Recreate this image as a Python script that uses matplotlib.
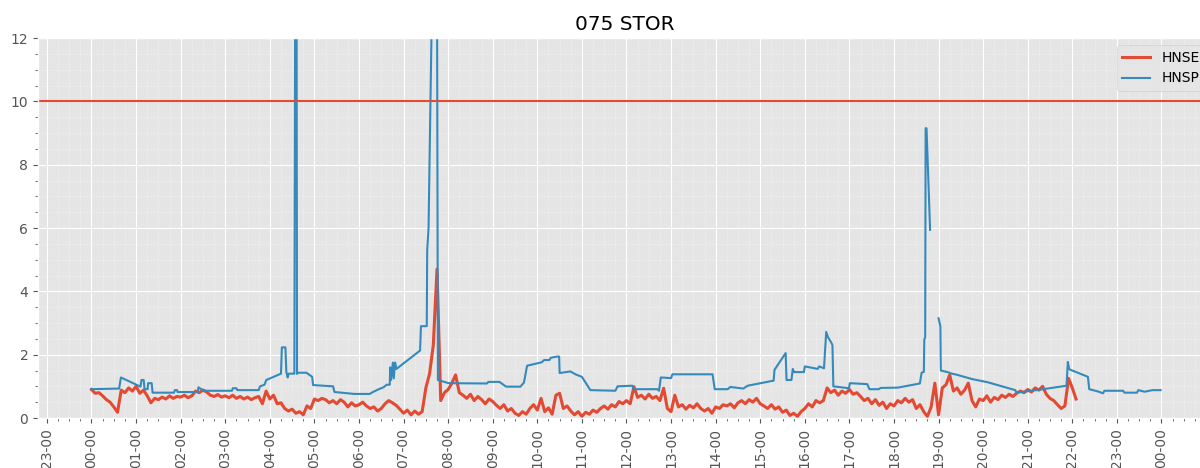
import numpy as np
import pandas as pd
import matplotlib
matplotlib.use("Agg")
import matplotlib.pyplot as plt
import matplotlib.dates as mdates
from matplotlib.ticker import MultipleLocator

# HNSE, one value every 5 minutes from 00:00 (one row per hour)
hnse = [
    0.90, 0.78, 0.80, 0.70, 0.58, 0.50, 0.35, 0.18, 0.88, 0.80, 0.95, 0.85,
    1.00, 0.78, 0.88, 0.70, 0.48, 0.62, 0.58, 0.66, 0.60, 0.70, 0.62, 0.68,
    0.66, 0.72, 0.64, 0.70, 0.85, 0.80, 0.88, 0.82, 0.72, 0.68, 0.74, 0.66,
    0.70, 0.64, 0.72, 0.62, 0.68, 0.60, 0.66, 0.58, 0.64, 0.68, 0.45, 0.85,
    0.60, 0.72, 0.45, 0.48, 0.30, 0.22, 0.28, 0.15, 0.20, 0.10, 0.38, 0.30,
    0.60, 0.55, 0.62, 0.58, 0.48, 0.55, 0.45, 0.58, 0.50, 0.35, 0.48, 0.38,
    0.42, 0.50, 0.38, 0.30, 0.35, 0.22, 0.30, 0.45, 0.55, 0.48, 0.40, 0.28,
    0.15, 0.25, 0.10, 0.22, 0.12, 0.20, 0.95, 1.40, 2.30, 4.70, 0.55, 0.80,
    0.90, 1.10, 1.36, 0.80, 0.72, 0.62, 0.75, 0.55, 0.68, 0.58, 0.45, 0.60,
    0.52, 0.40, 0.30, 0.42, 0.22, 0.30, 0.15, 0.08, 0.20, 0.12, 0.30, 0.42,
    0.25, 0.62, 0.20, 0.32, 0.12, 0.72, 0.78, 0.30, 0.38, 0.22, 0.10, 0.20,
    0.05, 0.18, 0.12, 0.25, 0.18, 0.30, 0.38, 0.28, 0.42, 0.35, 0.52, 0.45,
    0.55, 0.45, 0.99, 0.65, 0.72, 0.60, 0.75, 0.62, 0.68, 0.55, 0.94, 0.30,
    0.20, 0.72, 0.35, 0.42, 0.28, 0.40, 0.32, 0.45, 0.30, 0.22, 0.30, 0.15,
    0.35, 0.30, 0.42, 0.38, 0.45, 0.32, 0.48, 0.55, 0.45, 0.58, 0.50, 0.62,
    0.45, 0.38, 0.30, 0.42, 0.28, 0.35, 0.18, 0.25, 0.08, 0.15, 0.05, 0.20,
    0.30, 0.45, 0.35, 0.55, 0.48, 0.55, 0.95, 0.80, 0.88, 0.72, 0.85, 0.78,
    0.90, 0.75, 0.80, 0.68, 0.55, 0.62, 0.45, 0.58, 0.40, 0.50, 0.30, 0.45,
    0.38, 0.55, 0.48, 0.62, 0.50, 0.58, 0.30, 0.42, 0.20, 0.05, 0.35, 1.10,
    0.10, 0.95, 1.05, 1.36, 0.85, 0.95, 0.75, 0.88, 1.10, 0.55, 0.35, 0.60,
    0.55, 0.70, 0.50, 0.65, 0.58, 0.72, 0.65, 0.75, 0.68, 0.78, 0.85, 0.80,
    0.90, 0.82, 0.95, 0.88, 1.00, 0.75, 0.62, 0.55, 0.42, 0.30, 0.38, 1.25,
    0.95, 0.60,
]

# HNSP, irregular samples (hours after 00:00), nan = gap
hnsp_hours = [
    0.00, 0.62, 0.66, 1.10, 1.12, 1.17, 1.19, 1.26, 1.27, 1.35, 1.37, 1.85,
    1.87, 1.92, 1.93, 2.38, 2.40, 2.45, 2.55, 3.15, 3.17, 3.25, 3.27, 3.75,
    3.78, 3.88, 3.92, 4.25, 4.27, 4.35, 4.37, 4.40, 4.42, 4.55, 4.57, 4.60,
    4.61, 4.63, 4.65, 4.82, 4.95, 4.97, 5.42, 5.45, 5.90, 6.24, 6.31, 6.43,
    6.55, 6.62, 6.69, 6.70, 6.72, 6.76, 6.78, 6.81, 6.84, 7.37, 7.39, 7.52,
    7.53, 7.56, 7.60, 7.63, 7.66, 7.74, 7.77, 8.01, 8.87, 8.90, 9.15, 9.30,
    9.62, 9.70, 9.77, 10.10, 10.15, 10.27, 10.30, 10.44, 10.49, 10.50, 10.74, 10.87,
    11.00, 11.19, 11.75, 11.80, 12.13, 12.16, 12.69, 12.73, 12.77, 13.00, 13.03, 13.93,
    13.98, 14.27, 14.33, 14.62, 14.72, 15.30, 15.32, 15.57, 15.59, 15.70, 15.73, 15.76,
    15.98, 16.00, 16.29, 16.32, 16.43, 16.48, 16.52, 16.59, 16.62, 16.64, 16.99, 17.01,
    17.40, 17.45, 17.66, 17.70, 18.09, 18.58, 18.62, 18.67, 18.68, 18.70, 18.71, 18.73,
    18.81, 18.90, 19.00, 19.04, 19.05, 19.20, 19.30, 19.40, 19.75, 20.10, 20.72, 20.75,
    21.30, 21.87, 21.90, 21.93, 22.35, 22.38, 22.57, 22.69, 22.72, 23.14, 23.17, 23.45,
    23.48, 23.62, 23.80, 23.98,
]
hnsp_values = [
    0.91, 0.93, 1.28, 0.99, 1.20, 1.20, 0.91, 0.91, 1.10, 1.10, 0.80, 0.80,
    0.88, 0.88, 0.82, 0.82, 0.97, 0.92, 0.86, 0.86, 0.94, 0.94, 0.88, 0.88,
    1.00, 1.05, 1.20, 1.40, 2.23, 2.23, 1.46, 1.28, 1.40, 1.40, 14.0, 14.0,
    1.40, np.nan, 1.43, 1.43, 1.30, 1.04, 1.00, 0.82, 0.76, 0.76, 0.82, 0.90,
    0.97, 1.05, 1.05, 1.60, 1.20, 1.75, 1.25, 1.75, 1.55, 2.13, 2.90, 2.90,
    5.30, 6.00, 9.60, 12.5, 20.0, 20.0, 1.20, 1.10, 1.09, 1.14, 1.14, 0.99,
    0.99, 1.12, 1.65, 1.76, 1.83, 1.83, 1.90, 1.94, 1.94, 1.42, 1.47, 1.37,
    1.30, 0.88, 0.86, 1.00, 1.02, 0.91, 0.91, 0.86, 1.28, 1.26, 1.38, 1.38,
    0.91, 0.91, 0.98, 0.93, 1.02, 1.18, 1.52, 2.05, 1.20, 1.20, 1.55, 1.45,
    1.45, 1.63, 1.55, 1.63, 1.57, 2.72, 2.55, 2.39, 2.30, 1.00, 0.94, 1.10,
    1.07, 0.91, 0.91, 0.95, 0.96, 1.09, 1.43, 1.46, 2.48, 2.55, 9.15, 9.15,
    5.94, np.nan, 3.15, 2.90, 1.50, 1.45, 1.40, 1.37, 1.23, 1.13, 0.88, 0.80,
    0.90, 1.02, 1.77, 1.54, 1.30, 0.91, 0.84, 0.78, 0.86, 0.86, 0.80, 0.80,
    0.88, 0.83, 0.88, 0.88,
]

threshold = 10

day = pd.Timestamp("2023-01-01")
hnse_time = pd.date_range(day, periods=len(hnse), freq="5min")
hnsp_time = day + pd.to_timedelta(hnsp_hours, unit="h")

plt.style.use("ggplot")
fig = plt.figure(figsize=(12, 4.68), dpi=100)
ax = fig.add_axes([38 / 1200, 50 / 468, (1212 - 38) / 1200, 380 / 468])

ax.plot(hnse_time, hnse, color="#E24A33", linewidth=2.2, label="HNSE")
ax.plot(hnsp_time, hnsp_values, color="#348ABD", linewidth=1.5, label="HNSP")
ax.axhline(threshold, color="#E24A33", linewidth=1.5)

ax.set_xlim(day - pd.Timedelta(minutes=72), day + pd.Timedelta(hours=25, minutes=8))
ax.set_ylim(0, 12)
ax.yaxis.set_major_locator(MultipleLocator(2))
ax.yaxis.set_minor_locator(MultipleLocator(0.5))
ax.xaxis.set_major_locator(mdates.HourLocator(interval=1))
ax.xaxis.set_minor_locator(mdates.MinuteLocator(byminute=[15, 30, 45]))
ax.xaxis.set_major_formatter(mdates.DateFormatter("%H-%M"))
plt.setp(ax.get_xticklabels(), rotation=90)
ax.grid(which="minor", color="white", linestyle=":", linewidth=0.6, alpha=0.6)

ax.set_title("075 STOR")
ax.legend(loc="upper right")

fig.savefig("out.png", dpi=100)
